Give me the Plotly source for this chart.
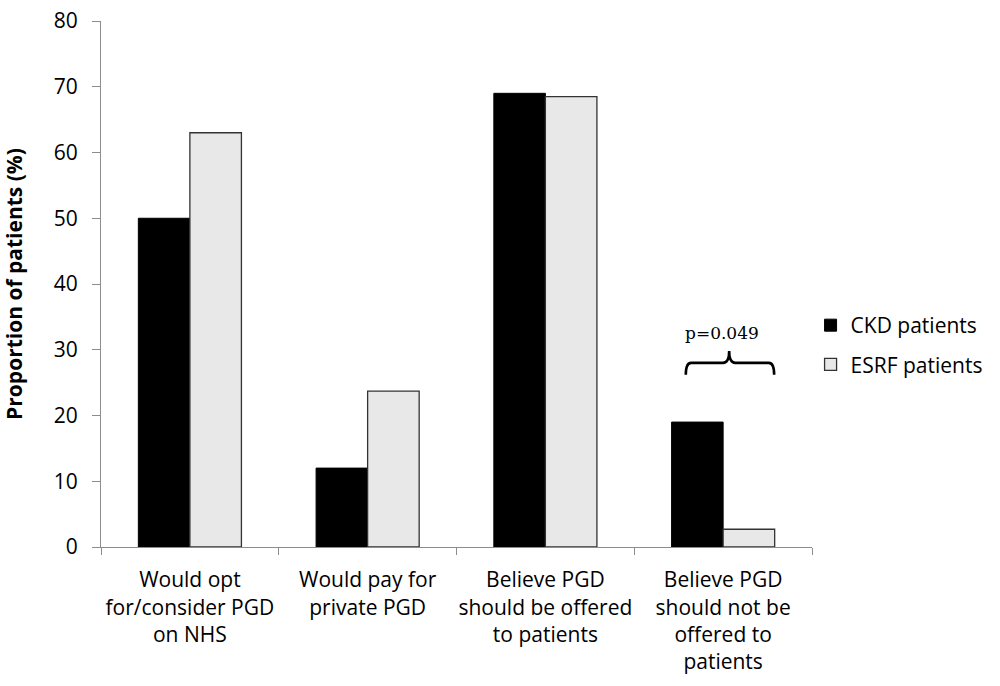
import plotly.graph_objects as go

categories = [
    "Would opt<br>for/consider PGD<br>on NHS",
    "Would pay for<br>private PGD",
    "Believe PGD<br>should be offered<br>to patients",
    "Believe PGD<br>should not be<br>offered to<br>patients",
]
ckd = [50, 12, 69, 19]
esrf = [63, 23.7, 68.5, 2.7]
series_names = ["CKD patients", "ESRF patients"]
p_label = "p=0.049"

font_main = "'Open Sans', sans-serif"

fig = go.Figure()
fig.add_trace(go.Bar(x=categories, y=ckd, name=series_names[0], legendgroup="a",
                     marker=dict(color="#000000", line=dict(color="#000000", width=1))))
fig.add_trace(go.Bar(x=categories, y=esrf, name=series_names[1], legendgroup="b",
                     marker=dict(color="#e8e8e8", line=dict(color="#333333", width=1.3))))

# significance brace above last group
brace = ("M 2.79,26.2 Q 2.79,28.0 2.82,28.0 L 3.00,28.0 Q 3.034,28.0 3.034,29.8 "
         "Q 3.034,28.0 3.068,28.0 L 3.257,28.0 Q 3.287,28.0 3.287,26.2")
fig.add_shape(type="path", path=brace, xref="x", yref="y",
              line=dict(color="#000000", width=2.6))
fig.add_annotation(x=2.995, y=32.5, xref="x", yref="y", text=p_label, showarrow=False,
                   yanchor="middle",
                   font=dict(family="'DejaVu Serif', 'Liberation Serif', serif", size=17, color="#000"))

fig.update_layout(
    width=1000, height=686,
    paper_bgcolor="white", plot_bgcolor="white",
    margin=dict(l=101, r=188, t=21, b=139),
    barmode="group", bargap=0.42, bargroupgap=0,
    font=dict(family=font_main, size=21, color="#000"),
    showlegend=True,
    legend=dict(x=0.998, y=0.384, xanchor="left", yanchor="middle",
                font=dict(size=21), bgcolor="rgba(0,0,0,0)",
                traceorder="grouped", tracegroupgap=9),
    xaxis=dict(type="category", showline=True, linecolor="#8c8c8c", linewidth=1,
               ticks="outside", tickson="boundaries", ticklen=7, tickcolor="#8c8c8c",
               showgrid=False, tickfont=dict(size=21), range=[-0.5, 3.5], tickangle=0,
               automargin=False, ticklabelstandoff=14),
    yaxis=dict(range=[0, 80], dtick=10, showline=True, linecolor="#8c8c8c", linewidth=1,
               ticks="outside", ticklen=8, tickcolor="#8c8c8c", showgrid=False, zeroline=False,
               tickfont=dict(size=21), automargin=False, ticklabelstandoff=10,
               title=dict(text="<b>Proportion of patients (%)</b>", font=dict(size=21), standoff=27)),
)

fig.write_html("out.html", config={"displayModeBar": False},
               post_script="document.body.style.margin='0';")
